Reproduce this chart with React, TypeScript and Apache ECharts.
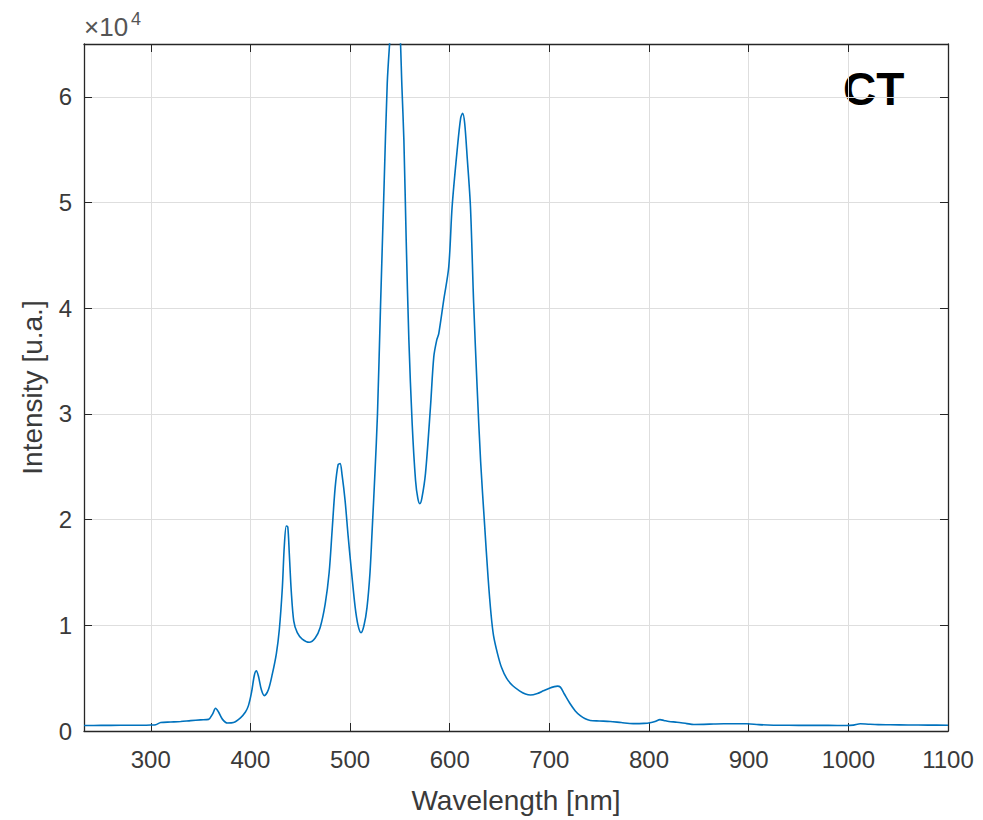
import React, { useEffect, useRef } from "react";
import * as echarts from "echarts";

// Wavelength (nm) sampled along the traced spectrum
const wavelengths = [
  233, 250, 270, 290, 300, 305, 310, 320, 330, 340, 350, 358, 362, 365, 368, 372, 377, 383, 390, 395,
  398, 401, 404, 406, 408, 411, 414, 418, 422, 426, 429, 432, 434, 436, 437.5, 439, 441, 443.5, 447, 452,
  459, 465, 470, 475, 479, 482, 485, 488, 490, 492, 495, 498, 501, 505, 508, 511, 514, 517, 520, 522,
  525, 527.5, 530.5, 534, 537.3, 540, 543, 545, 547, 550, 552, 554, 556.3, 559, 562.3, 565.7, 568, 570, 572, 575.7,
  580.7, 584, 587, 589, 594, 599, 602.4, 607.5, 611, 613, 615, 617.5, 620.8, 624, 627.5, 631, 635, 638.5, 641.5, 644,
  648, 652, 657, 663, 670, 676, 681, 688, 694, 700, 705, 708, 711, 715, 721, 726, 731, 736, 741, 750,
  761, 772, 784, 795, 801, 806, 811, 815, 820, 828, 838, 845, 855, 865, 875, 890, 898, 910, 925, 940,
  960, 980, 998, 1005, 1012, 1020, 1030, 1042, 1060, 1080, 1100,
];

// Intensity (u.a.)
const intensity = [
  520, 530, 540, 550, 570, 600, 800, 850, 900, 980, 1050, 1100, 1600, 2150, 1800, 1100, 750, 800, 1250, 1800,
  2400, 3600, 5300, 5700, 5200, 3900, 3350, 3900, 5400, 7300, 9600, 13500, 17500, 19400, 19300, 16800, 13200, 10400, 9300, 8700,
  8400, 8800, 9800, 12000, 15000, 19000, 23000, 25200, 25300, 24200, 21800, 18500, 15500, 11800, 10000, 9300, 10000, 11700, 15000, 18700,
  24500, 30000, 40000, 51200, 61300, 65500, 69500, 71000, 70500, 66500, 61000, 55900, 46500, 37000, 29100, 23700, 22000, 21500, 22000, 24400,
  30700, 35400, 37000, 37600, 40800, 43900, 49600, 55000, 58000, 58450, 57500, 54300, 49600, 40500, 32500, 25500, 19500, 14500, 11000, 9000,
  7300, 6000, 5000, 4300, 3800, 3500, 3400, 3550, 3800, 4050, 4200, 4250, 4150, 3500, 2550, 1900, 1450, 1150, 1000, 950,
  900, 800, 700, 720, 780, 900, 1080, 1000, 900, 830, 700, 620, 630, 660, 680, 680, 680, 600, 550, 540,
  530, 530, 520, 560, 680, 640, 600, 590, 570, 560, 550,
];

const xMin = 233;
const xMax = 1100;
const yMax = 65000;
const xStep = 100;
const yStep = 10000;

const xTitle = "Wavelength [nm]";
const yTitle = "Intensity [u.a.]";
const panelLabel = "CT";
const exponentBase = "×10";
const exponentPower = "4";

export default function App() {
  const ref = useRef<HTMLDivElement>(null);

  useEffect(() => {
    if (!ref.current) return;
    const chart = echarts.init(ref.current, undefined, { renderer: "svg" });
    const font = "'Liberation Sans', Arial, Helvetica, sans-serif";
    const axisColor = "#262626";
    const labelColor = "#3a3a3a";
    const gridColor = "#dedede";

    const data = wavelengths.map((w, i) => [w, intensity[i]]);

    const baseTick = { show: true, inside: true, length: 8, lineStyle: { color: axisColor, width: 1 } };
    const baseLine = { show: true, onZero: false, lineStyle: { color: axisColor, width: 1.3 } };

    chart.setOption({
      animation: false,
      backgroundColor: "#ffffff",
      grid: { left: 84, right: 35, top: 44, bottom: 89, containLabel: false },
      xAxis: [
        {
          type: "value",
          position: "bottom",
          min: xMin,
          max: xMax,
          minInterval: xStep,
          maxInterval: xStep,
          axisLine: baseLine,
          axisTick: baseTick,
          axisLabel: {
            show: true,
            showMinLabel: false,
            color: labelColor,
            fontSize: 24,
            fontFamily: font,
            margin: 16,
            formatter: (v: number) => String(v),
          },
          splitLine: { show: true, lineStyle: { color: gridColor, width: 1 } },
          name: xTitle,
          nameLocation: "middle",
          nameGap: 55,
          nameTextStyle: { color: labelColor, fontSize: 28, fontFamily: font },
        },
        {
          type: "value",
          position: "top",
          min: xMin,
          max: xMax,
          minInterval: xStep,
          maxInterval: xStep,
          axisLine: baseLine,
          axisTick: baseTick,
          axisLabel: { show: false },
          splitLine: { show: false },
        },
      ],
      yAxis: [
        {
          type: "value",
          position: "left",
          min: 0,
          max: yMax,
          interval: yStep,
          axisLine: baseLine,
          axisTick: baseTick,
          axisLabel: {
            show: true,
            showMaxLabel: false,
            color: labelColor,
            fontSize: 24,
            fontFamily: font,
            margin: 12,
            formatter: (v: number) => String(v / 10000),
          },
          splitLine: { show: true, lineStyle: { color: gridColor, width: 1 } },
          name: yTitle,
          nameLocation: "middle",
          nameGap: 38,
          nameTextStyle: { color: labelColor, fontSize: 28, fontFamily: font },
        },
        {
          type: "value",
          position: "right",
          min: 0,
          max: yMax,
          interval: yStep,
          axisLine: baseLine,
          axisTick: baseTick,
          axisLabel: { show: false },
          splitLine: { show: false },
        },
      ],
      series: [
        {
          type: "line",
          data,
          xAxisIndex: 0,
          yAxisIndex: 0,
          showSymbol: false,
          smooth: 0.3,
          clip: true,
          lineStyle: { color: "#0072BD", width: 1.6 },
        },
      ],
      graphic: [
        {
          type: "text",
          left: 84,
          top: 14,
          style: {
            text: exponentBase,
            fontSize: 26,
            fontFamily: font,
            fill: "#555555",
          },
        },
        {
          type: "text",
          left: 131,
          top: 10,
          style: {
            text: exponentPower,
            fontSize: 18,
            fontFamily: font,
            fill: "#555555",
          },
        },
        {
          type: "text",
          left: 843,
          top: 66,
          style: {
            text: panelLabel,
            fontSize: 46,
            fontWeight: "bold",
            fontFamily: font,
            fill: "#000000",
          },
        },
      ],
    });

    return () => chart.dispose();
  }, []);

  return (
    <div
      ref={ref}
      style={{ position: "fixed", left: 0, top: 0, width: 983, height: 820, background: "#fff" }}
    />
  );
}
